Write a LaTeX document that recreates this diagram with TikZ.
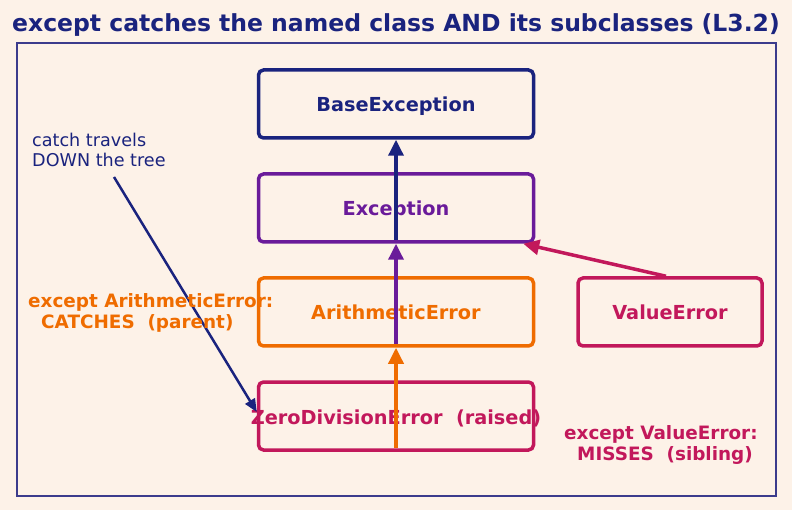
\documentclass[tikz,border=0pt]{standalone}
\usepackage{fontspec}
\setmainfont{DejaVu Sans}
\usetikzlibrary{arrows.meta}

\definecolor{bgpeach}{RGB}{253,242,232}
\definecolor{navy}{RGB}{26,35,126}
\definecolor{grape}{RGB}{106,27,154}
\definecolor{amber}{RGB}{239,108,0}
\definecolor{crimson}{RGB}{194,24,91}
\definecolor{framecol}{RGB}{60,60,140}

\tikzset{
    cls/.style={draw, rounded corners=5pt, line width=3.5pt,
        minimum width=275pt, minimum height=68pt, inner sep=0pt,
        text height=16pt, text depth=0pt,
        font=\fontsize{19.3}{22}\selectfont\bfseries},
    note/.style={inner sep=0pt, align=left, anchor=west,
        font=\fontsize{18.4}{21}\selectfont\bfseries},
    up/.style={line width=3.5pt, -{Triangle[length=16pt,width=15pt]}}
}

\begin{document}
\begin{tikzpicture}[x=1pt,y=-1pt]
            \fill[bgpeach] (0,0) rectangle (792,510);
            \useasboundingbox (0,0) rectangle (792,510);

            \node[navy, font=\fontsize{23.5}{27}\selectfont\bfseries] (title) at (396,25)
                {except catches the named class AND its subclasses (L3.2)};
            \draw[framecol, line width=1.5pt] (17,43) rectangle (776,496);

            % class boxes
            \node[cls, navy] (base) at (396,104) {BaseException};
            \node[cls, grape] (exc) at (396,208) {Exception};
            \node[cls, amber] (arith) at (396,312) {ArithmeticError};
            \node[cls, crimson] (zde) at (396,416) {\makebox[0pt]{ZeroDivisionError\ \ (raised)}};
            \node[cls, crimson, minimum width=184pt] (val) at (670,312) {ValueError};

            % inheritance arrows
            \draw[up, navy] ([yshift=4pt]exc.south) -- (base.south);
            \draw[up, grape] ([yshift=4pt]arith.south) -- (exc.south);
            \draw[up, amber] ([yshift=4pt]zde.south) -- (arith.south);
            \draw[up, crimson] ([xshift=-4pt]val.north) -- ([xshift=-12pt]exc.south east);

            % side notes
            \node[note, navy, font=\fontsize{17.6}{20}\selectfont] (travel) at (32,150)
                {catch travels\\DOWN the tree};
            \coordinate (start) at (114,177);
            \draw[navy, line width=2.5pt, -{Triangle[length=13pt,width=11pt]}]
                (start) -- ([yshift=4pt]zde.west);

            \node[note, amber] (catches) at (28,313)
                {except ArithmeticError:\\\hspace*{13pt}CATCHES\ \ (parent)};
            \node[note, crimson] (misses) at (564,445)
                {except ValueError:\\\hspace*{13pt}MISSES\ \ (sibling)};
\end{tikzpicture}
\end{document}
